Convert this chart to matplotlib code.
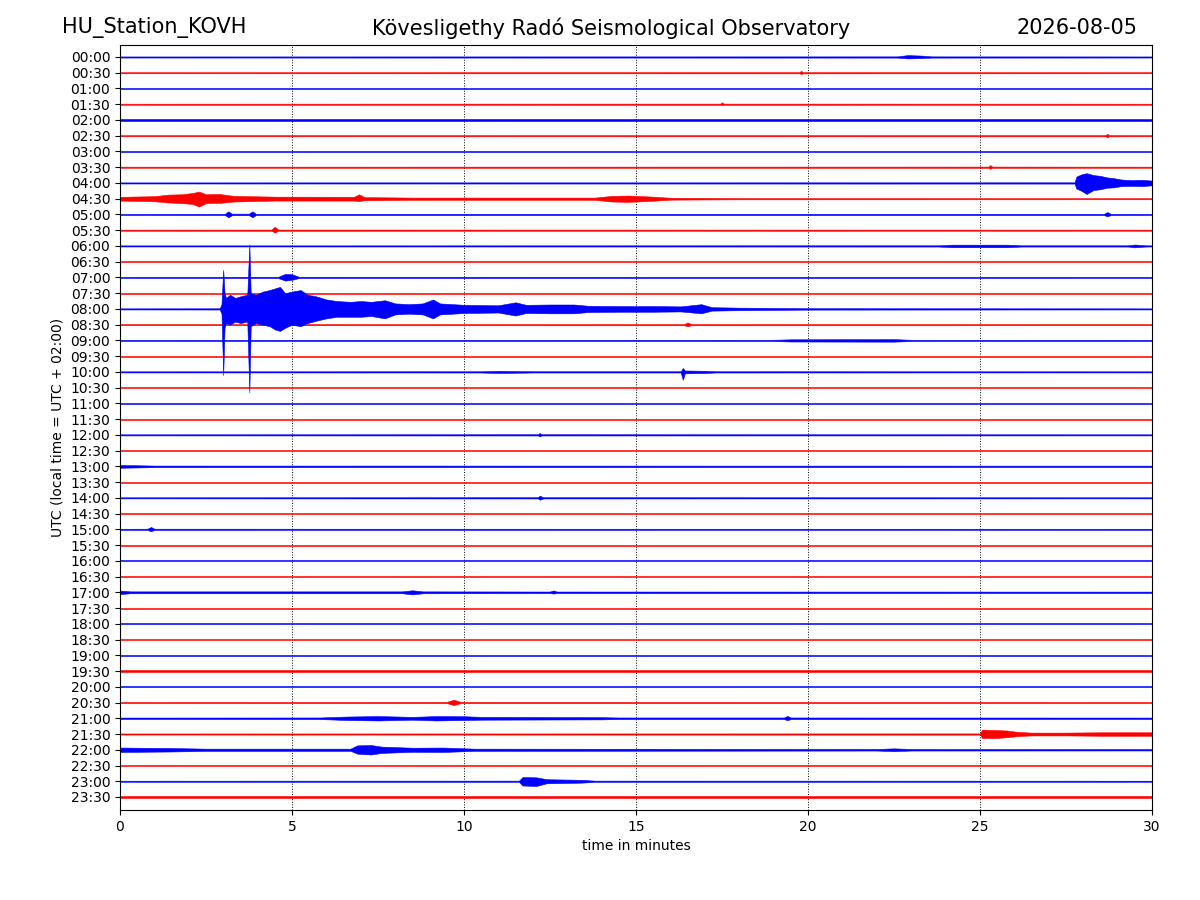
import numpy as np
import matplotlib
matplotlib.use("Agg")
import matplotlib.pyplot as plt

station = "HU_Station_KOVH"
observatory = "Kövesligethy Radó Seismological Observatory"
day = "2026-08-05"

# one trace per half hour, labels top to bottom
trace_labels = ["%02d:%02d" % (h, m) for h in range(24) for m in (0, 30)]

# quiet-trace half width, in units of trace spacing
base_amp = [0.035] * 48
base_amp[26] = 0.045
base_amp[34] = 0.045
base_amp[42] = 0.045
base_amp[44] = 0.045

# envelope key points: (minute, up, down)
events = {
    0: [(22.6, .04, .04), (22.9, .12, .09), (23.3, .09, .07), (23.6, .04, .04)],
    1: [(19.75, .04, .04), (19.8, .12, .08), (19.85, .04, .04)],
    3: [(17.45, .04, .04), (17.5, .12, .06), (17.55, .04, .04)],
    5: [(28.65, .04, .04), (28.7, .12, .10), (28.75, .04, .04)],
    7: [(25.25, .04, .04), (25.3, .14, .10), (25.35, .04, .04)],
    8: [(27.75, .04, .04), (27.8, .40, .35), (27.95, .55, .50), (28.1, .62, .70),
        (28.3, .50, .45), (28.5, .45, .40), (28.7, .35, .30), (28.9, .30, .28),
        (29.1, .22, .20), (29.4, .18, .18), (29.7, .20, .20), (30.0, .15, .15)],
    9: [(0.0, .12, .12), (1.0, .16, .16), (1.4, .26, .24), (1.8, .28, .28),
        (2.1, .36, .33), (2.3, .45, .50), (2.5, .28, .28), (2.9, .30, .26),
        (3.3, .18, .18), (4.5, .13, .12), (6.8, .12, .12), (6.95, .28, .15),
        (7.1, .10, .10), (8.5, .07, .07), (13.8, .07, .07), (14.3, .18, .18),
        (14.8, .20, .20), (15.5, .13, .13), (16.0, .06, .06), (18.0, .04, .04)],
    10: [(3.05, .04, .04), (3.15, .20, .18), (3.25, .05, .05), (3.75, .05, .05),
         (3.85, .20, .18), (3.95, .04, .04), (28.6, .04, .04), (28.7, .15, .12),
         (28.8, .04, .04)],
    11: [(4.4, .04, .04), (4.5, .22, .15), (4.6, .04, .04)],
    12: [(23.8, .04, .04), (24.2, .08, .08), (25.8, .08, .08), (26.2, .04, .04),
         (29.3, .04, .04), (29.5, .09, .09), (29.8, .04, .04)],
    14: [(4.6, .04, .04), (4.8, .22, .20), (5.0, .20, .15), (5.2, .04, .04)],
    16: [(2.9, .04, .04), (2.95, .30, .30), (3.0, 2.48, 4.2), (3.04, 1.0, 1.2),
         (3.08, .70, .90), (3.2, .90, 1.0), (3.35, .70, .80), (3.5, .80, .90),
         (3.7, .90, .80), (3.76, 4.1, 5.3), (3.8, 1.0, 1.1), (3.95, .90, .90),
         (4.15, 1.1, 1.0), (4.35, 1.2, 1.1), (4.5, 1.3, 1.3), (4.65, 1.4, 1.4),
         (4.8, 1.0, 1.2), (5.0, 1.1, 1.0), (5.25, 1.2, 1.1), (5.45, .90, .90),
         (5.7, .80, .75), (6.0, .60, .60), (6.3, .50, .50), (6.7, .45, .50),
         (7.0, .50, .50), (7.3, .45, .45), (7.7, .55, .60), (8.0, .35, .35),
         (8.4, .30, .30), (8.8, .35, .35), (9.1, .60, .60), (9.3, .35, .35),
         (10.0, .26, .26), (11.0, .23, .23), (11.5, .42, .42), (11.8, .26, .26),
         (12.5, .28, .28), (13.2, .28, .28), (13.6, .20, .20), (14.5, .18, .18),
         (15.5, .18, .18), (16.3, .16, .16), (16.9, .30, .28), (17.2, .11, .11),
         (18.0, .08, .08), (20.0, .045, .045)],
    17: [(16.4, .04, .04), (16.5, .14, .10), (16.6, .04, .04)],
    18: [(19.0, .04, .04), (19.5, .07, .07), (22.5, .08, .08), (23.0, .04, .04)],
    20: [(10.5, .04, .04), (11.0, .07, .07), (12.0, .04, .04), (16.3, .04, .04),
         (16.36, .25, .50), (16.42, .09, .09), (17.0, .07, .07), (17.3, .04, .04)],
    24: [(12.15, .04, .04), (12.2, .12, .10), (12.25, .04, .04)],
    26: [(0.0, .09, .09), (1.0, .05, .05)],
    28: [(12.15, .04, .04), (12.2, .14, .12), (12.3, .04, .04)],
    30: [(0.8, .04, .04), (0.9, .15, .12), (1.0, .04, .04)],
    34: [(0.0, .11, .11), (0.3, .06, .06), (8.2, .06, .06), (8.5, .13, .13),
         (8.8, .06, .06), (12.5, .05, .05), (12.6, .12, .08), (12.7, .05, .05)],
    41: [(9.5, .04, .04), (9.7, .18, .16), (9.9, .04, .04)],
    42: [(5.8, .05, .05), (6.6, .11, .11), (7.5, .14, .14), (8.5, .09, .09),
         (9.2, .14, .14), (10.0, .13, .11), (10.5, .09, .09), (14.0, .07, .07),
         (14.5, .05, .05), (19.3, .05, .05), (19.4, .15, .12), (19.5, .05, .05)],
    43: [(25.0, .04, .04), (25.06, .28, .25), (25.5, .25, .25), (25.8, .22, .20),
         (26.1, .13, .13), (26.5, .09, .09), (27.5, .09, .09), (28.5, .11, .11),
         (30.0, .11, .11)],
    44: [(0.0, .14, .14), (1.5, .11, .11), (2.5, .07, .07), (6.7, .07, .07),
         (6.9, .28, .25), (7.3, .30, .30), (7.6, .20, .20), (8.5, .13, .13),
         (9.4, .14, .14), (10.3, .07, .07), (22.0, .05, .05), (22.5, .09, .09),
         (23.0, .05, .05)],
    46: [(11.6, .04, .04), (11.7, .27, .27), (12.1, .25, .30), (12.4, .13, .13),
         (13.4, .09, .09), (13.8, .04, .04)],
}

trace_colors = ["#0000ff", "#ff0000"]

fig = plt.figure(figsize=(12, 9), dpi=100)
ax = fig.add_axes([0.1, 0.1, 0.86, 0.85])

for i, label in enumerate(trace_labels):
    b = base_amp[i]
    pts = [(0.0, b, b)] + events.get(i, []) + [(30.0, b, b)]
    t = np.array([p[0] for p in pts])
    up = np.array([p[1] for p in pts])
    dn = np.array([p[2] for p in pts])
    c = trace_colors[i % 2]
    ax.fill_between(t, -i + up, -i - dn, color=c, edgecolor=c, linewidth=0.4,
                    zorder=3 if i == 16 else 2)

ax.set_xlim(0, 30)
ax.set_ylim(-47.826, 0.762)
ax.set_xticks(range(0, 31, 5))
ax.set_yticks([-i for i in range(48)])
ax.set_yticklabels(trace_labels)
ax.xaxis.grid(True, linestyle=":", color="black", linewidth=0.7)
ax.set_xlabel("time in minutes")
ax.set_ylabel("UTC (local time = UTC + 02:00)")

fig.text(0.052, 0.969, station, fontsize=15, ha="left", va="center")
fig.text(0.509, 0.969, observatory, fontsize=15, ha="center", va="center")
fig.text(0.948, 0.969, day, fontsize=15, ha="right", va="center")

fig.savefig("out.png", dpi=100)
